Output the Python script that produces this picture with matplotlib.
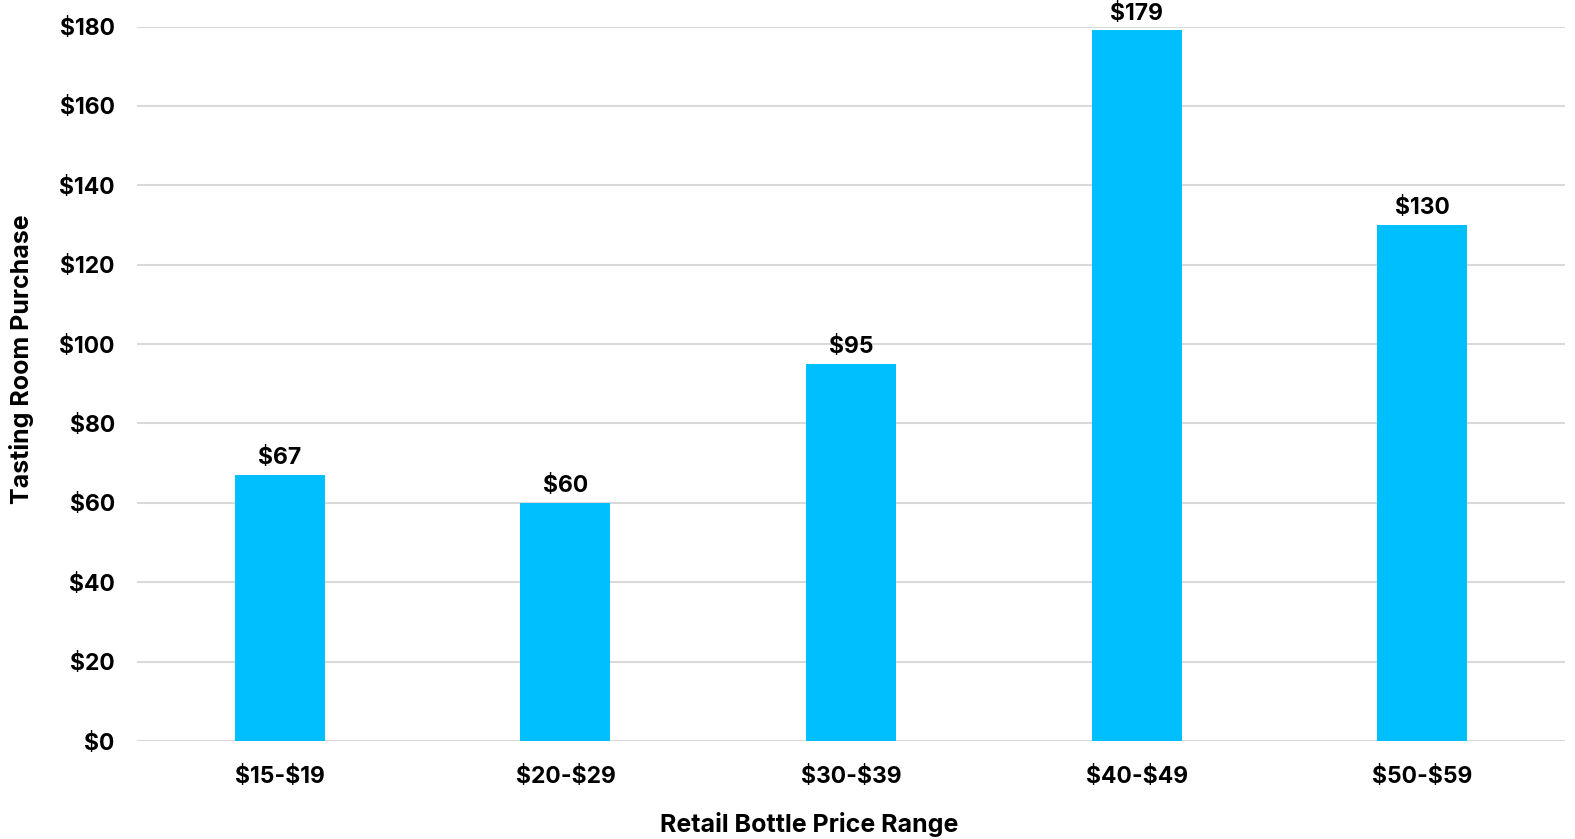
import matplotlib
matplotlib.use("Agg")
import matplotlib.pyplot as plt
from matplotlib.ticker import FuncFormatter

price_ranges = ["$15-$19", "$20-$29", "$30-$39", "$40-$49", "$50-$59"]
purchase = [67, 60, 95, 179, 130]

plt.rcParams["font.family"] = ["Inter", "DejaVu Sans"]
plt.rcParams["font.weight"] = "bold"
plt.rcParams["text.parse_math"] = False

fig = plt.figure(figsize=(15.75, 8.39), dpi=100)
ax = fig.add_axes([0.087, 0.1168, 0.9067, 0.8516])

x = range(len(price_ranges))
bars = ax.bar(x, purchase, width=0.315, color="#00BFFF", zorder=3)

ax.set_xlim(-0.5, len(price_ranges) - 0.5)
ax.set_ylim(0, 180)
ax.set_yticks(range(0, 181, 20))
ax.yaxis.set_major_formatter(FuncFormatter(lambda v, p: f"${v:.0f}"))
ax.set_xticks(list(x))
ax.set_xticklabels(price_ranges)

ax.grid(axis="y", color="#D9D9D9", linewidth=1.5, zorder=0)
for s in ax.spines.values():
    s.set_visible(False)
ax.tick_params(axis="both", length=0, labelsize=16.5)
ax.tick_params(axis="y", pad=16)
ax.tick_params(axis="x", pad=18)
for lbl in ax.get_xticklabels() + ax.get_yticklabels():
    lbl.set_fontweight("bold")

for rect, val in zip(bars, purchase):
    ax.annotate(f"${val}", (rect.get_x() + rect.get_width() / 2, val),
                xytext=(0, 4), textcoords="offset points",
                ha="center", va="bottom", fontsize=16.5, fontweight="bold")

ax.set_xlabel("Retail Bottle Price Range", fontsize=18, fontweight="bold")
ax.xaxis.set_label_coords(0.471, -0.1)
ax.set_ylabel("Tasting Room Purchase", fontsize=18, fontweight="bold")
ax.yaxis.set_label_coords(-0.072, 0.534)

fig.savefig("out.png", dpi=100)
